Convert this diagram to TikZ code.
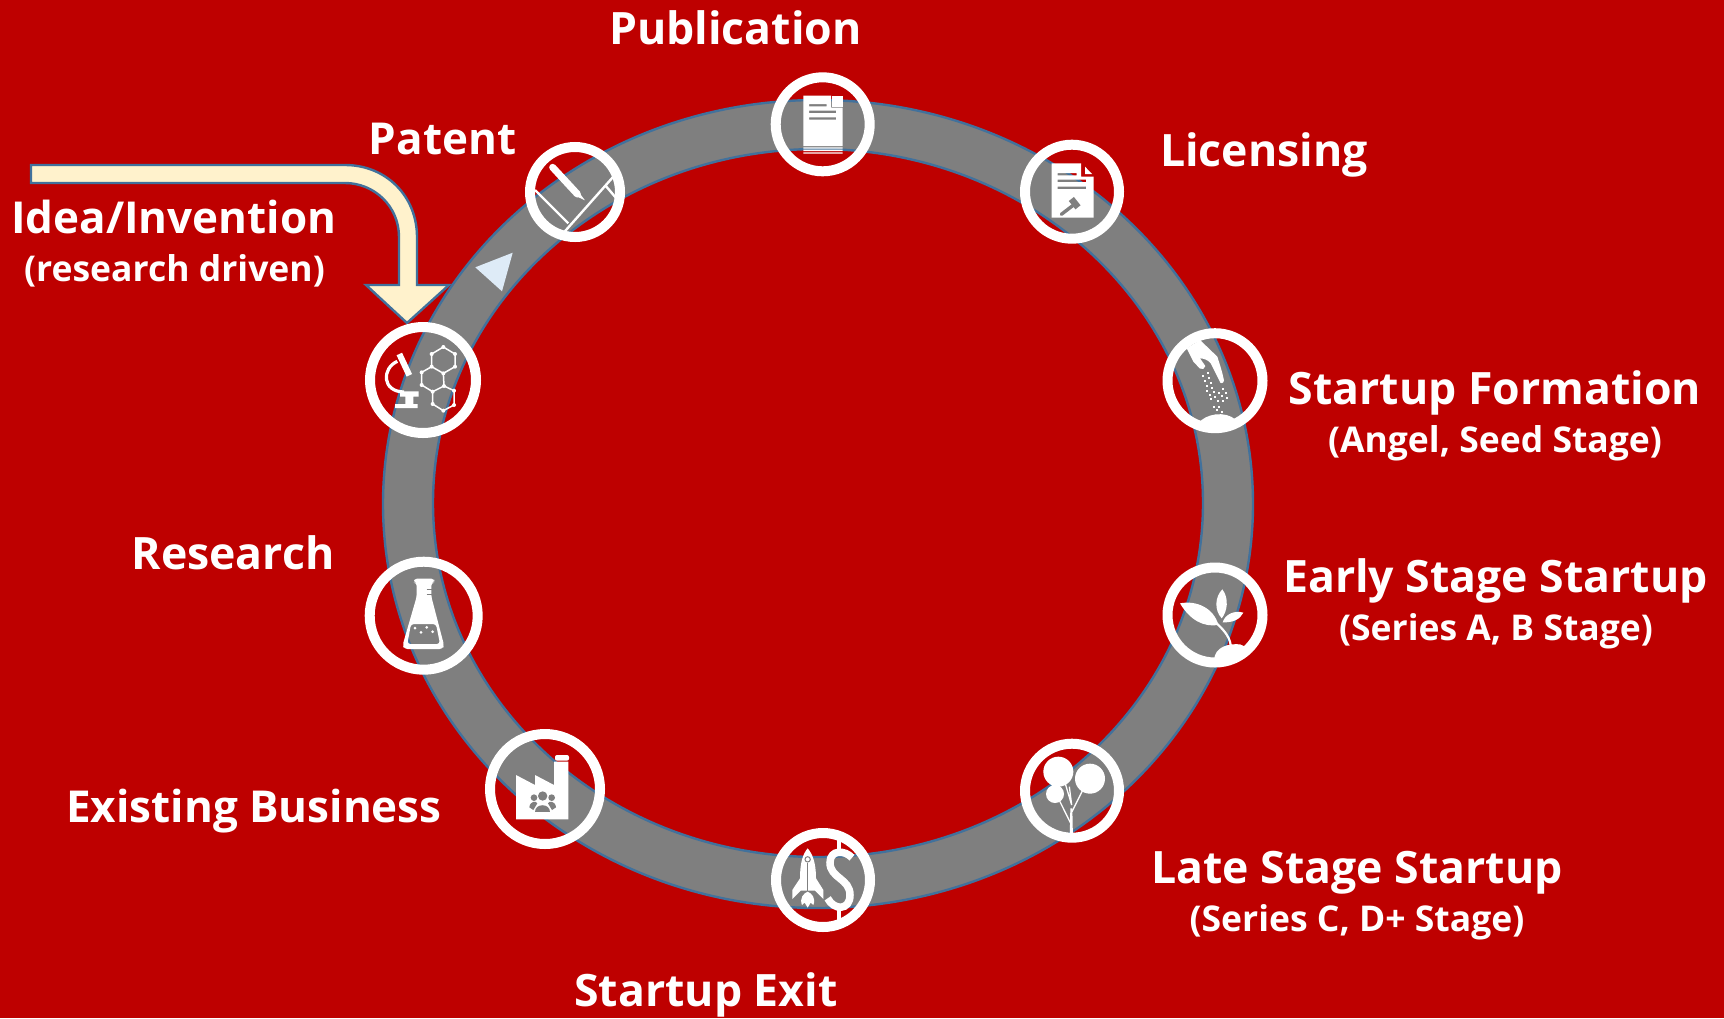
\documentclass[tikz,border=0pt]{standalone}
\usepackage{fontspec}
\setmainfont{Open Sans}
\definecolor{bgred}{HTML}{BE0000}
\definecolor{band}{HTML}{7F7F7F}
\definecolor{edge}{HTML}{41719C}
\definecolor{cream}{HTML}{FFF2CC}
\definecolor{pale}{HTML}{DEEBF7}
\tikzset{
  stagering/.style={circle,draw=white,line width=10pt,fill=none,inner sep=0pt},
  big/.style={text=white,font=\fontsize{44.6}{50}\selectfont\bfseries,inner sep=0pt,anchor=center},
  bigless/.style={text=white,font=\fontsize{44}{50}\selectfont\bfseries,inner sep=0pt,anchor=center},
  small/.style={text=white,font=\fontsize{35.5}{40}\selectfont\bfseries,inner sep=0pt,anchor=center},
  wfill/.style={fill=white,draw=none},
  gfill/.style={fill=band,draw=none},
  zoomed/.style={x=0.33333pt,y=-0.33333pt},
}
\begin{document}
\begin{tikzpicture}[x=1pt,y=-1pt]
\path[use as bounding box,fill=bgred] (0,0) rectangle (1724,1018);
% ring
\path[fill=band,draw=edge,line width=2.4pt,even odd rule]
  (818,504) ellipse (435 and 404) (818,503) ellipse (385 and 354);
% direction triangle
\node[coordinate] (tria) at (512.7,252.7) {};
\node[coordinate] (trib) at (475.3,267.3) {};
\node[coordinate] (tric) at (502,291.3) {};
\path[fill=pale] (tria) -- (trib) -- (tric) -- cycle;
% entry arrow
\path[fill=cream,draw=edge,line width=2.4pt,line join=miter]
  (31,165) -- (345,165) .. controls (386,165) and (417,196) .. (417,237) -- (417,285) -- (449,285)
  -- (407,323) -- (366,285) -- (399,285) -- (399,237)
  .. controls (399,206) and (374,183) .. (345,183) -- (31,183) -- cycle;
% circles
\node[stagering,minimum size=94pt] (pub) at (822.7,124.3) {};
\node[stagering,minimum size=94pt] (lic) at (1072,191.7) {};
\node[stagering,minimum size=95pt] (form) at (1215,380.7) {};
\node[stagering,minimum size=95pt] (early) at (1215,615) {};
\node[stagering,minimum size=94pt] (late) at (1072,790.7) {};
\node[stagering,minimum size=94pt] (exit) at (823,880) {};
\node[stagering,minimum size=110pt] (exist) at (545,789) {};
\node[stagering,minimum size=108pt] (res) at (423.7,615.7) {};
\node[stagering,minimum size=106pt] (idea) at (423,380) {};
\node[stagering,minimum size=90pt] (pat) at (575,192) {};
% icons from zoom 1: microscope, molecule, patent
\begin{scope}[shift={(340,120)},zoomed]
 \draw[white,line width=3.2pt] (172,724) .. controls (125,745) and (125,815) .. (192,816);
 \draw[white,line width=6pt] (178,702) -- (208,766);
 \path[wfill] (180,814) rectangle (236,830) (196,830) rectangle (220,852) (165,852) rectangle (233,864);
 \draw[white,line width=1.5pt,line join=round]
   (310,681) -- (345,702) -- (345,740) -- (310,760) -- (275,740) -- (275,702) -- cycle
   (275,740) -- (245,757) -- (245,795) -- (278,815) -- (312,798) -- (310,760)
   (312,798) -- (342,812) -- (342,855) -- (310,872) -- (278,852) -- (278,815);
 \foreach \p in {(310,681),(345,702),(345,740),(310,760),(275,740),(275,702),(245,757),(245,795),(278,815),(312,798),(342,812),(342,855),(310,872),(278,852)}
   \path[wfill] \p circle (6);
 % patent
 \draw[white,line width=7pt,line cap=round] (638,142) -- (712,222);
 \path[wfill] (716,216) -- (735,241) -- (707,228) -- cycle;
 \draw[white,line width=2.4pt] (585,210) -- (685,310) (672,337) -- (820,170) (795,195) -- (830,236);
\end{scope}
% zoom 2: publication, licensing
\begin{scope}[shift={(750,60)},zoomed]
 \path[wfill,even odd rule] (160,107) -- (243,107) -- (243,143) -- (278,143) -- (278,258) -- (160,258) -- cycle
   (177,132) rectangle (230,139) (177,152) rectangle (258,159) (177,172) rectangle (258,179);
 \path[wfill] (247,107) rectangle (278,140);
 \path[wfill] (160,262) rectangle (278,266) (160,269) rectangle (278,273) (160,277) rectangle (278,281);
 \path[wfill,even odd rule] (905,310) -- (993,310) -- (993,350) -- (1031,350) -- (1031,473) -- (905,473) -- cycle
   (923,339) rectangle (980,346) (923,359) rectangle (1008,366) (923,380) rectangle (1008,387);
 \path[wfill] (1005,320) -- (1026,342) -- (1005,342) -- cycle;
 \draw[band,line width=3.4pt,line cap=round] (934,463) -- (972,434);
 \draw[band,line width=6.5pt] (964,417) -- (984,442);
\end{scope}
% zoom 3: hand and seeds, plant
\begin{scope}[shift={(1140,310)},zoomed]
 \path[wfill,line join=round] (180,90) -- (232,140) .. controls (240,165) and (248,190) .. (252,212)
   .. controls (250,222) and (240,222) .. (238,212) -- (212,160) .. controls (205,150) and (190,145) .. (180,145)
   -- (196,168) .. controls (196,176) and (186,180) .. (180,176) -- (160,155) -- (140,115) -- cycle;
 \foreach \p in {(190,198),(205,188),(208,205),(195,212),(212,220),(200,228),(216,235),(202,243),(210,255),(222,247),(226,262),(212,268),(238,250),(248,238),(257,248),(245,258),(235,272),(250,272),(262,265),(222,290),(238,290),(230,300),(245,305)}
   \path[wfill] \p ++(-3,-3) rectangle ++(6,6);
 \path[wfill] (175,340) .. controls (195,312) and (255,300) .. (288,330) -- (270,355) -- (195,355) -- cycle;
 % plant
 \path[wfill] (222,1050) .. controls (225,1010) and (265,1000) .. (300,1003) -- (320,1012) -- (295,1050) -- cycle;
 \draw[white,line width=2.2pt] (272,1005) .. controls (268,975) and (245,955) .. (228,938);
 \path[wfill] (120,880) .. controls (170,870) and (222,895) .. (235,945) .. controls (190,952) and (150,930) .. (120,880) -- cycle;
 \path[wfill] (247,838) .. controls (268,865) and (262,905) .. (245,925) .. controls (222,900) and (225,860) .. (247,838) -- cycle;
 \path[wfill] (310,908) .. controls (285,900) and (255,912) .. (248,937) .. controls (280,938) and (300,928) .. (310,908) -- cycle;
\end{scope}
% zoom 4: rocket, dollar, tree
\begin{scope}[shift={(760,730)},zoomed]
 \path[wfill] (143,355) .. controls (130,370) and (120,395) .. (120,445) -- (97,480) -- (97,507) -- (122,482)
   -- (165,482) -- (190,507) -- (190,480) -- (168,445) .. controls (168,395) and (156,370) .. (143,355) -- cycle;
 \path[wfill] (143,485) .. controls (130,490) and (118,505) .. (126,525) -- (134,518) -- (143,533) -- (152,518) -- (160,525) .. controls (168,505) and (156,490) .. (143,485) -- cycle;
 \draw[band,line width=1.2pt] (143,400) -- (143,482);
 \draw[band,line width=1pt,fill=white] (143,388) circle (8);
 \draw[white,line width=4pt] (236,328) -- (236,366) (236,530) -- (236,578);
 \draw[white,line width=7.5pt] (276,383) .. controls (255,360) and (210,358) .. (210,398)
   .. controls (210,445) and (270,445) .. (270,495) .. controls (270,542) and (222,542) .. (203,505);
 % tree
 \path[wfill] (895,125) circle (45) (990,146) circle (45) (885,192) circle (27);
 \path[wfill] (929,332) -- (931,235) -- (937,235) -- (939,332) -- cycle;
 \draw[white,line width=1.3pt] (932,280) -- (895,205) (936,245) -- (976,165) (935,225) -- (912,148) (935,225) -- (928,170);
\end{scope}
% zoom 5: flask, factory
\begin{scope}[shift={(350,550)},zoomed]
 \path[wfill,even odd rule,rounded corners=3pt] (192,86) -- (253,86) -- (253,98) -- (244,98) -- (244,140) -- (282,285) -- (278,297) -- (163,297) -- (158,285) -- (200,140) -- (200,98) -- (192,98) -- cycle
   (183,222) -- (258,222) -- (270,282) -- (172,282) -- cycle;
 \foreach \p in {(195,234),(230,232),(248,245),(213,247)} \path[wfill] \p circle (4.5);
 \draw[band,line width=1.1pt] (230,118) -- (248,118) (230,133) -- (248,133);
 \path[wfill,even odd rule] (498,675) -- (555,705) -- (555,675) -- (612,705) -- (612,635) -- (655,635) -- (655,808) -- (498,808) -- cycle;
 \path[wfill,rounded corners=2pt] (615,615) rectangle (657,632);
 \path[gfill] (578,738) circle (14) (552,743) circle (10) (605,743) circle (10);
 \path[gfill] (556,785) .. controls (556,758) and (600,758) .. (600,785) -- cycle;
 \path[gfill] (538,772) .. controls (540,752) and (560,752) .. (562,760) -- (550,780) -- cycle;
 \path[gfill] (618,772) .. controls (616,752) and (596,752) .. (594,760) -- (606,780) -- cycle;
\end{scope}
% labels
\node[big] (tpub) at (735.5,27.5) {Publication};
\node[bigless] (tpat) at (442.5,139) {Patent};
\node[big] (tlic) at (1264,155) {Licensing};
\node[bigless] (tidea) at (173.7,216.7) {Idea/Invention};
\node[small] (tidea2) at (174.5,270.8) {(research driven)};
\node[big] (tform) at (1495,393) {Startup Formation};
\node[small] (tform2) at (1495,443) {(Angel, Seed Stage)};
\node[big] (tearly) at (1495.5,581.4) {Early Stage Startup};
\node[small] (tearly2) at (1496,631) {(Series A, B Stage)};
\node[big] (tres) at (233,553) {Research};
\node[bigless] (texist) at (254,811.4) {Existing Business};
\node[big] (tlate) at (1357,872.4) {Late Stage Startup};
\node[small] (tlate2) at (1357,922) {(Series C, D+ Stage)};
\node[big] (texit) at (706,995) {Startup Exit};
\end{tikzpicture}
\end{document}
